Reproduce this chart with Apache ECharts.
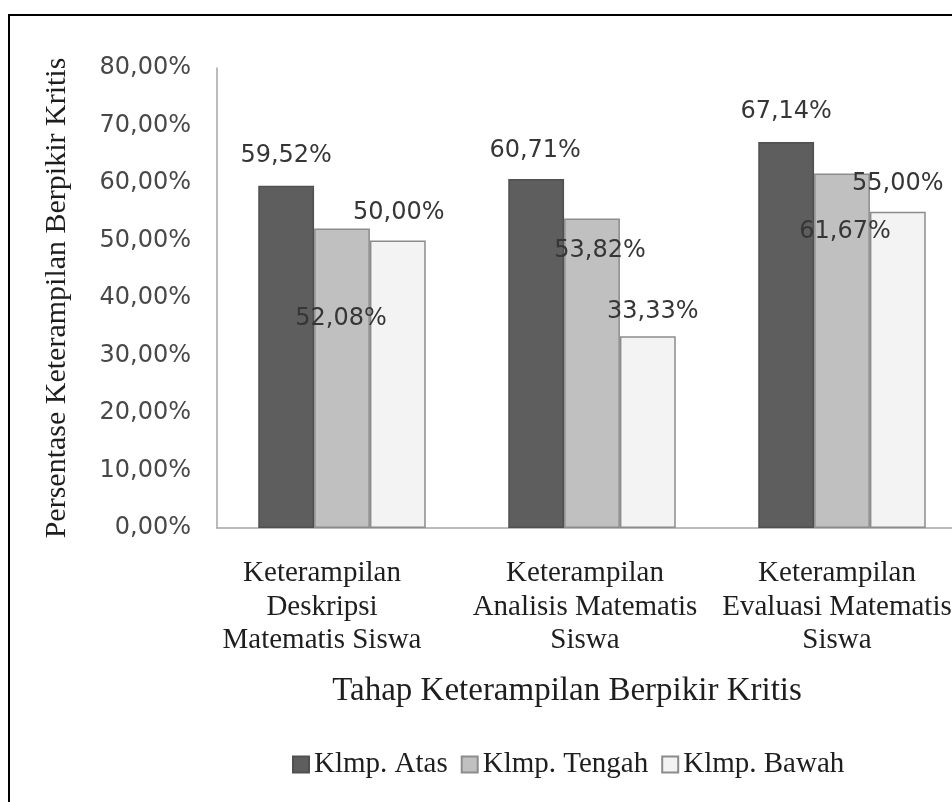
<!DOCTYPE html>
<html>
<head>
<meta charset="utf-8">
<script src="https://cdn.jsdelivr.net/npm/echarts@6/dist/echarts.min.js"></script>
<style>
  html, body { margin: 0; padding: 0; background: #ffffff; overflow: hidden; width: 952px; height: 802px; }
  #chart { width: 1130px; height: 802px; }
</style>
</head>
<body>
<div id="chart"></div>
<script>
// ---- data ----
const categories = [
  "Keterampilan\nDeskripsi\nMatematis Siswa",
  "Keterampilan\nAnalisis Matematis\nSiswa",
  "Keterampilan\nEvaluasi Matematis\nSiswa"
];
const seriesNames = ["Klmp. Atas", "Klmp. Tengah", "Klmp. Bawah"];
const atasValues = [59.52, 60.71, 67.14];
const tengahValues = [52.08, 53.82, 61.67];
const bawahValues = [50.00, 33.33, 55.00];
const yAxisTitle = "Persentase Keterampilan Berpikir Kritis";
const xAxisTitle = "Tahap Keterampilan Berpikir Kritis";

// ---- layout / style (label nudges as in the original) ----
const labelNudge = [
  [[0, -13], [-1, -11], [0, -13]],
  [[-1, 107], [8, 49], [3, 75]],
  [[1, -11], [5, -8], [0, -11]]
];
const fills = ["#5e5e5e", "#c0c0c0", "#f3f3f3"];
const borders = ["#505050", "#8c8c8c", "#8c8c8c"];
const serif = "'Liberation Serif', 'Times New Roman', serif";
const sans = "'DejaVu Sans', Verdana, sans-serif";

const fmt = v => v.toFixed(2).replace('.', ',') + '%';

const valueSets = [atasValues, tengahValues, bawahValues];

const series = valueSets.map((vals, si) => ({
  name: seriesNames[si],
  type: 'bar',
  barGap: '0%',
  barCategoryGap: '33%',
  itemStyle: { color: fills[si], borderColor: borders[si], borderWidth: 1.5 },
  label: {
    show: true,
    position: 'top',
    distance: 5,
    fontFamily: sans,
    fontSize: 24,
    color: '#363636',
    formatter: p => fmt(p.value)
  },
  data: vals.map((v, i) => ({
    value: v,
    label: { offset: labelNudge[si][i] }
  }))
}));

const catRich = {};
[40, 14, 10].forEach((pad, i) => {
  catRich['c' + i] = {
    fontFamily: serif, fontSize: 29, lineHeight: 33.5, color: '#1e1e1e',
    padding: [0, pad, 0, 0]
  };
});

const chart = echarts.init(document.getElementById('chart'), null, { renderer: 'canvas' });
chart.setOption({
  animation: false,
  backgroundColor: '#ffffff',
  graphic: [{
    type: 'rect',
    shape: { x: 9, y: 15, width: 1300, height: 1000 },
    style: { fill: 'none', stroke: '#000000', lineWidth: 2 },
    silent: true
  }],
  grid: { left: 217, top: 68, width: 750, height: 460 },
  legend: {
    data: seriesNames,
    left: 287,
    top: 745,
    itemWidth: 16,
    itemHeight: 16,
    itemGap: 13,
    icon: 'rect',
    textStyle: { fontFamily: serif, fontSize: 29, color: '#1e1e1e' }
  },
  xAxis: {
    type: 'category',
    data: categories,
    axisLine: { show: true, lineStyle: { color: '#a6a6a6', width: 1.5 } },
    axisTick: { show: false },
    axisLabel: {
      interval: 0,
      margin: 29,
      formatter: (val, idx) => val.split('\n').map(s => '{c' + idx + '|' + s + '}').join('\n'),
      rich: catRich
    },
    name: xAxisTitle,
    nameLocation: 'middle',
    nameGap: 147,
    nameTextStyle: {
      fontFamily: serif, fontSize: 33, color: '#1e1e1e',
      padding: [0, 50, 0, 0]
    }
  },
  yAxis: {
    type: 'value',
    min: 0,
    max: 80,
    interval: 10,
    axisLine: { show: true, lineStyle: { color: '#a6a6a6', width: 1.5 } },
    axisTick: { show: false },
    splitLine: { show: false },
    axisLabel: {
      margin: 26,
      fontFamily: sans,
      fontSize: 24,
      color: '#484848',
      formatter: v => fmt(v)
    },
    name: yAxisTitle,
    nameLocation: 'middle',
    nameGap: 145,
    nameTextStyle: { fontFamily: serif, fontSize: 30, color: '#1e1e1e' }
  },
  series: series
});
</script>
</body>
</html>
